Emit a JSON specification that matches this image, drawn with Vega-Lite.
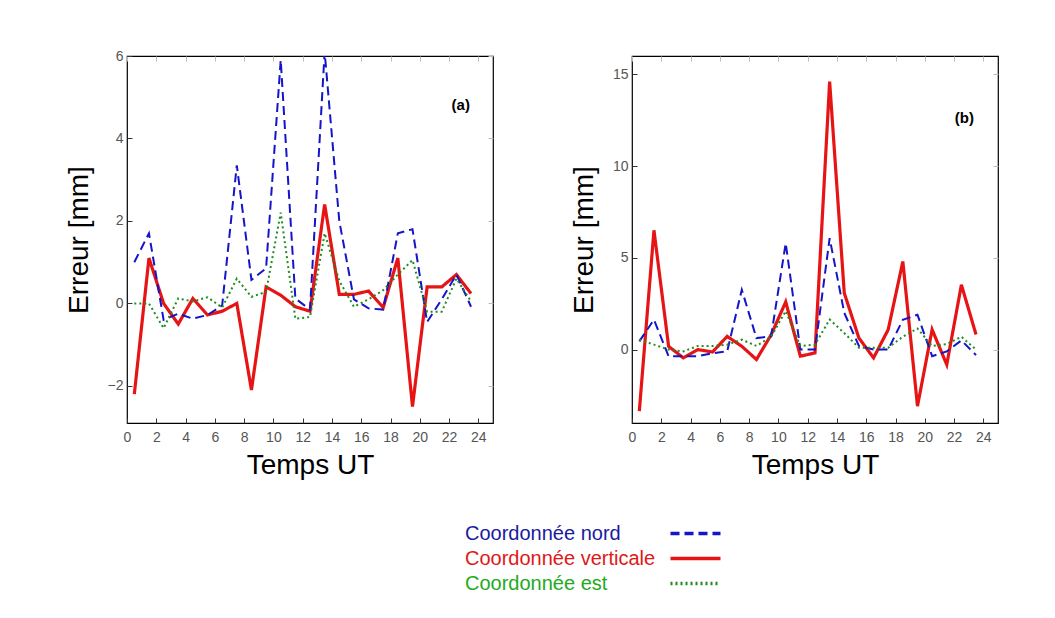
{
  "$schema": "https://vega.github.io/schema/vega-lite/v6.json",
  "background": "white",
  "padding": {"left": 64, "top": 48, "right": 5, "bottom": 5},
  "config": {
    "font": "Liberation Sans",
    "view": {"stroke": "black", "strokeWidth": 1.2},
    "axis": {
      "domain": false, "grid": false, "tickColor": "#333", "tickSize": -5, "tickWidth": 1,
      "labelFont": "Liberation Sans", "labelFontSize": 14, "labelColor": "#555",
      "titleFont": "Liberation Sans", "titleFontSize": 28, "titleFontWeight": "normal", "titleColor": "black"
    },
    "line": {"strokeCap": "butt"}
  },
  "datasets": {
    "series": [
      {"panel":"a","series":"Coordonnée verticale","t":0.5,"v":-2.2},{"panel":"a","series":"Coordonnée verticale","t":1.5,"v":1.1},{"panel":"a","series":"Coordonnée verticale","t":2.5,"v":0.0},{"panel":"a","series":"Coordonnée verticale","t":3.5,"v":-0.5},{"panel":"a","series":"Coordonnée verticale","t":4.5,"v":0.12},{"panel":"a","series":"Coordonnée verticale","t":5.5,"v":-0.28},{"panel":"a","series":"Coordonnée verticale","t":6.5,"v":-0.19},{"panel":"a","series":"Coordonnée verticale","t":7.5,"v":0.0},{"panel":"a","series":"Coordonnée verticale","t":8.5,"v":-2.1},{"panel":"a","series":"Coordonnée verticale","t":9.5,"v":0.4},{"panel":"a","series":"Coordonnée verticale","t":10.5,"v":0.2},{"panel":"a","series":"Coordonnée verticale","t":11.5,"v":-0.08},{"panel":"a","series":"Coordonnée verticale","t":12.5,"v":-0.19},{"panel":"a","series":"Coordonnée verticale","t":13.5,"v":2.4},{"panel":"a","series":"Coordonnée verticale","t":14.5,"v":0.22},{"panel":"a","series":"Coordonnée verticale","t":15.5,"v":0.22},{"panel":"a","series":"Coordonnée verticale","t":16.5,"v":0.3},{"panel":"a","series":"Coordonnée verticale","t":17.5,"v":-0.1},{"panel":"a","series":"Coordonnée verticale","t":18.5,"v":1.1},{"panel":"a","series":"Coordonnée verticale","t":19.5,"v":-2.5},{"panel":"a","series":"Coordonnée verticale","t":20.5,"v":0.4},{"panel":"a","series":"Coordonnée verticale","t":21.5,"v":0.4},{"panel":"a","series":"Coordonnée verticale","t":22.5,"v":0.7},{"panel":"a","series":"Coordonnée verticale","t":23.5,"v":0.24},
      {"panel":"a","series":"Coordonnée nord","t":0.5,"v":1.0},{"panel":"a","series":"Coordonnée nord","t":1.5,"v":1.7},{"panel":"a","series":"Coordonnée nord","t":2.5,"v":-0.4},{"panel":"a","series":"Coordonnée nord","t":3.5,"v":-0.25},{"panel":"a","series":"Coordonnée nord","t":4.5,"v":-0.37},{"panel":"a","series":"Coordonnée nord","t":5.5,"v":-0.28},{"panel":"a","series":"Coordonnée nord","t":6.5,"v":-0.05},{"panel":"a","series":"Coordonnée nord","t":7.5,"v":3.35},{"panel":"a","series":"Coordonnée nord","t":8.5,"v":0.57},{"panel":"a","series":"Coordonnée nord","t":9.5,"v":0.85},{"panel":"a","series":"Coordonnée nord","t":10.5,"v":5.9},{"panel":"a","series":"Coordonnée nord","t":11.5,"v":0.12},{"panel":"a","series":"Coordonnée nord","t":12.5,"v":-0.15},{"panel":"a","series":"Coordonnée nord","t":13.5,"v":6.1},{"panel":"a","series":"Coordonnée nord","t":14.5,"v":2.0},{"panel":"a","series":"Coordonnée nord","t":15.5,"v":0.1},{"panel":"a","series":"Coordonnée nord","t":16.5,"v":-0.12},{"panel":"a","series":"Coordonnée nord","t":17.5,"v":-0.15},{"panel":"a","series":"Coordonnée nord","t":18.5,"v":1.7},{"panel":"a","series":"Coordonnée nord","t":19.5,"v":1.8},{"panel":"a","series":"Coordonnée nord","t":20.5,"v":-0.45},{"panel":"a","series":"Coordonnée nord","t":21.5,"v":0.1},{"panel":"a","series":"Coordonnée nord","t":22.5,"v":0.7},{"panel":"a","series":"Coordonnée nord","t":23.5,"v":-0.08},
      {"panel":"a","series":"Coordonnée est","t":0.5,"v":0.0},{"panel":"a","series":"Coordonnée est","t":1.5,"v":0.0},{"panel":"a","series":"Coordonnée est","t":2.5,"v":-0.6},{"panel":"a","series":"Coordonnée est","t":3.5,"v":0.12},{"panel":"a","series":"Coordonnée est","t":4.5,"v":0.05},{"panel":"a","series":"Coordonnée est","t":5.5,"v":0.15},{"panel":"a","series":"Coordonnée est","t":6.5,"v":-0.1},{"panel":"a","series":"Coordonnée est","t":7.5,"v":0.6},{"panel":"a","series":"Coordonnée est","t":8.5,"v":0.16},{"panel":"a","series":"Coordonnée est","t":9.5,"v":0.28},{"panel":"a","series":"Coordonnée est","t":10.5,"v":2.2},{"panel":"a","series":"Coordonnée est","t":11.5,"v":-0.37},{"panel":"a","series":"Coordonnée est","t":12.5,"v":-0.33},{"panel":"a","series":"Coordonnée est","t":13.5,"v":1.7},{"panel":"a","series":"Coordonnée est","t":14.5,"v":0.55},{"panel":"a","series":"Coordonnée est","t":15.5,"v":-0.08},{"panel":"a","series":"Coordonnée est","t":16.5,"v":0.1},{"panel":"a","series":"Coordonnée est","t":17.5,"v":0.32},{"panel":"a","series":"Coordonnée est","t":18.5,"v":0.7},{"panel":"a","series":"Coordonnée est","t":19.5,"v":1.05},{"panel":"a","series":"Coordonnée est","t":20.5,"v":-0.2},{"panel":"a","series":"Coordonnée est","t":21.5,"v":-0.2},{"panel":"a","series":"Coordonnée est","t":22.5,"v":0.6},{"panel":"a","series":"Coordonnée est","t":23.5,"v":0.05},
      {"panel":"b","series":"Coordonnée verticale","t":0.5,"v":-3.35},{"panel":"b","series":"Coordonnée verticale","t":1.5,"v":6.5},{"panel":"b","series":"Coordonnée verticale","t":2.5,"v":0.18},{"panel":"b","series":"Coordonnée verticale","t":3.5,"v":-0.45},{"panel":"b","series":"Coordonnée verticale","t":4.5,"v":0.0},{"panel":"b","series":"Coordonnée verticale","t":5.5,"v":-0.13},{"panel":"b","series":"Coordonnée verticale","t":6.5,"v":0.72},{"panel":"b","series":"Coordonnée verticale","t":7.5,"v":0.18},{"panel":"b","series":"Coordonnée verticale","t":8.5,"v":-0.54},{"panel":"b","series":"Coordonnée verticale","t":9.5,"v":0.8},{"panel":"b","series":"Coordonnée verticale","t":10.5,"v":2.6},{"panel":"b","series":"Coordonnée verticale","t":11.5,"v":-0.36},{"panel":"b","series":"Coordonnée verticale","t":12.5,"v":-0.18},{"panel":"b","series":"Coordonnée verticale","t":13.5,"v":14.6},{"panel":"b","series":"Coordonnée verticale","t":14.5,"v":3.08},{"panel":"b","series":"Coordonnée verticale","t":15.5,"v":0.63},{"panel":"b","series":"Coordonnée verticale","t":16.5,"v":-0.45},{"panel":"b","series":"Coordonnée verticale","t":17.5,"v":1.09},{"panel":"b","series":"Coordonnée verticale","t":18.5,"v":4.8},{"panel":"b","series":"Coordonnée verticale","t":19.5,"v":-3.08},{"panel":"b","series":"Coordonnée verticale","t":20.5,"v":1.09},{"panel":"b","series":"Coordonnée verticale","t":21.5,"v":-0.82},{"panel":"b","series":"Coordonnée verticale","t":22.5,"v":3.53},{"panel":"b","series":"Coordonnée verticale","t":23.5,"v":0.82},
      {"panel":"b","series":"Coordonnée nord","t":0.5,"v":0.45},{"panel":"b","series":"Coordonnée nord","t":1.5,"v":1.63},{"panel":"b","series":"Coordonnée nord","t":2.5,"v":-0.36},{"panel":"b","series":"Coordonnée nord","t":3.5,"v":-0.36},{"panel":"b","series":"Coordonnée nord","t":4.5,"v":-0.36},{"panel":"b","series":"Coordonnée nord","t":5.5,"v":-0.2},{"panel":"b","series":"Coordonnée nord","t":6.5,"v":-0.1},{"panel":"b","series":"Coordonnée nord","t":7.5,"v":3.26},{"panel":"b","series":"Coordonnée nord","t":8.5,"v":0.63},{"panel":"b","series":"Coordonnée nord","t":9.5,"v":0.72},{"panel":"b","series":"Coordonnée nord","t":10.5,"v":5.8},{"panel":"b","series":"Coordonnée nord","t":11.5,"v":0.0},{"panel":"b","series":"Coordonnée nord","t":12.5,"v":0.0},{"panel":"b","series":"Coordonnée nord","t":13.5,"v":6.07},{"panel":"b","series":"Coordonnée nord","t":14.5,"v":2.0},{"panel":"b","series":"Coordonnée nord","t":15.5,"v":0.2},{"panel":"b","series":"Coordonnée nord","t":16.5,"v":0.0},{"panel":"b","series":"Coordonnée nord","t":17.5,"v":0.0},{"panel":"b","series":"Coordonnée nord","t":18.5,"v":1.63},{"panel":"b","series":"Coordonnée nord","t":19.5,"v":1.9},{"panel":"b","series":"Coordonnée nord","t":20.5,"v":-0.36},{"panel":"b","series":"Coordonnée nord","t":21.5,"v":-0.1},{"panel":"b","series":"Coordonnée nord","t":22.5,"v":0.5},{"panel":"b","series":"Coordonnée nord","t":23.5,"v":-0.3},
      {"panel":"b","series":"Coordonnée est","t":0.5,"v":0.54},{"panel":"b","series":"Coordonnée est","t":1.5,"v":0.27},{"panel":"b","series":"Coordonnée est","t":2.5,"v":0.0},{"panel":"b","series":"Coordonnée est","t":3.5,"v":-0.1},{"panel":"b","series":"Coordonnée est","t":4.5,"v":0.2},{"panel":"b","series":"Coordonnée est","t":5.5,"v":0.2},{"panel":"b","series":"Coordonnée est","t":6.5,"v":0.27},{"panel":"b","series":"Coordonnée est","t":7.5,"v":0.54},{"panel":"b","series":"Coordonnée est","t":8.5,"v":0.2},{"panel":"b","series":"Coordonnée est","t":9.5,"v":0.7},{"panel":"b","series":"Coordonnée est","t":10.5,"v":2.1},{"panel":"b","series":"Coordonnée est","t":11.5,"v":0.2},{"panel":"b","series":"Coordonnée est","t":12.5,"v":0.27},{"panel":"b","series":"Coordonnée est","t":13.5,"v":1.64},{"panel":"b","series":"Coordonnée est","t":14.5,"v":0.9},{"panel":"b","series":"Coordonnée est","t":15.5,"v":0.1},{"panel":"b","series":"Coordonnée est","t":16.5,"v":0.1},{"panel":"b","series":"Coordonnée est","t":17.5,"v":0.1},{"panel":"b","series":"Coordonnée est","t":18.5,"v":0.7},{"panel":"b","series":"Coordonnée est","t":19.5,"v":1.15},{"panel":"b","series":"Coordonnée est","t":20.5,"v":0.2},{"panel":"b","series":"Coordonnée est","t":21.5,"v":0.3},{"panel":"b","series":"Coordonnée est","t":22.5,"v":0.7},{"panel":"b","series":"Coordonnée est","t":23.5,"v":0.0}
    ]
  },
  "hconcat": [
    {
      "width": 366, "height": 367,
      "layer": [
        {
          "data": {"name": "series"},
          "transform": [{"filter": "datum.panel === 'a'"}],
          "mark": {"type": "line", "clip": true},
          "encoding": {
            "x": {"field": "t", "type": "quantitative", "scale": {"domain": [0, 25], "nice": false}, "axis": {"values": [0,2,4,6,8,10,12,14,16,18,20,22,24], "title": "Temps UT", "labelFlush": false, "labelPadding": 12, "titlePadding": 7}},
            "y": {"field": "v", "type": "quantitative", "scale": {"domain": [-2.9, 6], "nice": false, "zero": false}, "axis": {"values": [-2,0,2,4,6], "title": "Erreur [mm]", "labelPadding": 9, "titlePadding": 14}},
            "color": {"field": "series", "type": "nominal", "scale": {"domain": ["Coordonnée nord", "Coordonnée verticale", "Coordonnée est"], "range": ["#1414c8", "#e61414", "#1e8c1e"]},
              "legend": {"orient": "none", "legendX": 554, "legendY": 463, "title": null, "labelFontSize": 20, "labelFont": "Liberation Sans", "labelLimit": 400, "symbolType": "M-2,0L2,0", "symbolSize": 625, "symbolStrokeWidth": 3.5, "labelOffset": -245, "rowPadding": 0,
                "encode": {"labels": {"update": {"fill": {"signal": "datum.value === 'Coordonnée nord' ? '#1a1aa0' : datum.value === 'Coordonnée verticale' ? '#e01818' : '#22aa22'"}}}}}},
            "strokeDash": {"field": "series", "type": "nominal", "scale": {"domain": ["Coordonnée nord", "Coordonnée verticale", "Coordonnée est"], "range": [[9, 5], [1, 0], [2, 3]]}, "legend": null},
            "strokeWidth": {"condition": {"test": "datum.series === 'Coordonnée verticale'", "value": 3.2}, "value": 2}
          }
        },
        {
          "data": {"name": "series"},
          "transform": [{"filter": "datum.panel === 'a'"}],
          "mark": {"type": "line", "opacity": 0},
          "encoding": {
            "x": {"field": "t", "type": "quantitative", "axis": {"orient": "top", "values": [0,2,4,6,8,10,12,14,16,18,20,22,24], "labels": false, "title": null, "tickColor": "#bbb"}},
            "y": {"field": "v", "type": "quantitative", "axis": {"orient": "right", "values": [-2,0,2,4,6], "labels": false, "title": null, "tickColor": "#bbb"}},
            "detail": {"field": "series"}
          }
        },
        {
          "data": {"values": [{"t": 22.8, "v": 4.82, "label": "(a)"}]},
          "mark": {"type": "text", "fontWeight": "bold", "fontSize": 15, "font": "Liberation Sans"},
          "encoding": {
            "x": {"field": "t", "type": "quantitative", "axis": null},
            "y": {"field": "v", "type": "quantitative", "axis": null},
            "text": {"field": "label"}
          }
        }
      ],
      "resolve": {"axis": {"x": "independent", "y": "independent"}}
    },
    {
      "width": 366, "height": 367,
      "layer": [
        {
          "data": {"name": "series"},
          "transform": [{"filter": "datum.panel === 'b'"}],
          "mark": {"type": "line", "clip": true},
          "encoding": {
            "x": {"field": "t", "type": "quantitative", "scale": {"domain": [0, 25], "nice": false}, "axis": {"values": [0,2,4,6,8,10,12,14,16,18,20,22,24], "title": "Temps UT", "labelFlush": false, "labelPadding": 12, "titlePadding": 7}},
            "y": {"field": "v", "type": "quantitative", "scale": {"domain": [-4, 16], "nice": false, "zero": false}, "axis": {"values": [0,5,10,15], "title": "Erreur [mm]", "labelPadding": 9, "titlePadding": 14}},
            "color": {"field": "series", "type": "nominal", "scale": {"domain": ["Coordonnée nord", "Coordonnée verticale", "Coordonnée est"], "range": ["#1414c8", "#e61414", "#1e8c1e"]}},
            "strokeDash": {"field": "series", "type": "nominal", "scale": {"domain": ["Coordonnée nord", "Coordonnée verticale", "Coordonnée est"], "range": [[9, 5], [1, 0], [2, 3]]}, "legend": null},
            "strokeWidth": {"condition": {"test": "datum.series === 'Coordonnée verticale'", "value": 3.2}, "value": 2}
          }
        },
        {
          "data": {"name": "series"},
          "transform": [{"filter": "datum.panel === 'b'"}],
          "mark": {"type": "line", "opacity": 0},
          "encoding": {
            "x": {"field": "t", "type": "quantitative", "axis": {"orient": "top", "values": [0,2,4,6,8,10,12,14,16,18,20,22,24], "labels": false, "title": null, "tickColor": "#bbb"}},
            "y": {"field": "v", "type": "quantitative", "axis": {"orient": "right", "values": [0,5,10,15], "labels": false, "title": null, "tickColor": "#bbb"}},
            "detail": {"field": "series"}
          }
        },
        {
          "data": {"values": [{"t": 22.7, "v": 12.6, "label": "(b)"}]},
          "mark": {"type": "text", "fontWeight": "bold", "fontSize": 15, "font": "Liberation Sans"},
          "encoding": {
            "x": {"field": "t", "type": "quantitative", "axis": null},
            "y": {"field": "v", "type": "quantitative", "axis": null},
            "text": {"field": "label"}
          }
        }
      ],
      "resolve": {"axis": {"x": "independent", "y": "independent"}}
    }
  ],
  "spacing": 74
}
